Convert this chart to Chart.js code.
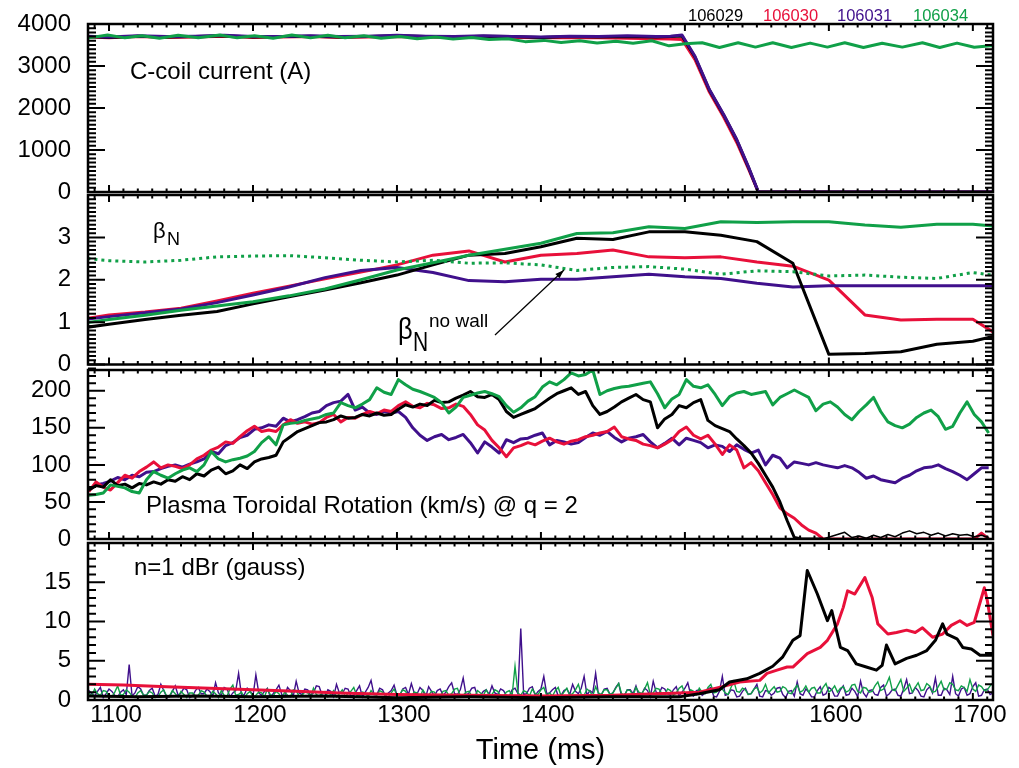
<!DOCTYPE html>
<html>
<head>
<meta charset="utf-8">
<script src="https://cdn.jsdelivr.net/npm/chart.js@4.4.0/dist/chart.umd.min.js"></script>
<style>
  body { margin: 0; background: #fff; width: 1019px; height: 768px; overflow: hidden; position: relative; }
  canvas { position: absolute; left: 0; }
</style>
</head>
<body>
<canvas id="p1" width="1019" height="215" style="top:0px"></canvas>
<canvas id="p2" width="1019" height="205" style="top:180px"></canvas>
<canvas id="p3" width="1019" height="205" style="top:355px"></canvas>
<canvas id="p4" width="1019" height="240" style="top:528px"></canvas>
<script>
// ---- shots ----
const shots = ['106029', '106030', '106031', '106034'];
const BLACK = '#000000', RED = '#e8103a', PURPLE = '#40108c', GREEN = '#10a048';
const FONT = '"Liberation Sans", Arial, Helvetica, sans-serif';
const X_MIN = 1085.4, X_MAX = 1714;
const xTicks = [1100, 1200, 1300, 1400, 1500, 1600, 1700];

// ---- panel 1 : C-coil current (A) ----
const coilTime = [1085,1100,1120,1140,1160,1180,1200,1220,1240,1260,1280,1300,1320,1340,1360,1380,1400,1420,1440,1460,1480,1490,1498,1507,1517,1527,1536,1544,1551,1714];
const coil029 = [3700,3680,3710,3690,3700,3720,3690,3700,3710,3690,3700,3720,3700,3690,3710,3700,3680,3700,3690,3700,3690,3700,3714,3214,2428,1830,1238,600,0,0];
const coil030 = [3690,3670,3700,3680,3690,3710,3680,3690,3700,3680,3690,3700,3690,3680,3700,3680,3670,3680,3670,3660,3650,3640,3630,3150,2380,1780,1180,560,0,0];
const coil031 = [3710,3690,3720,3700,3710,3730,3700,3700,3720,3700,3710,3730,3710,3700,3720,3700,3690,3710,3700,3720,3700,3710,3740,3230,2440,1840,1250,610,0,0];
const coilTime034 = [1086,1099,1111,1123,1135,1148,1162,1177,1189,1201,1214,1227,1240,1252,1264,1277,1289,1302,1314,1327,1339,1352,1364,1377,1389,1402,1414,1427,1439,1452,1464,1477,1489,1500,1512,1524,1537,1549,1561,1574,1587,1599,1611,1624,1637,1651,1665,1677,1689,1701,1714];
const coil034 = [3670,3740,3670,3720,3660,3730,3670,3740,3670,3720,3660,3740,3670,3730,3670,3720,3660,3700,3650,3690,3640,3680,3630,3650,3580,3610,3560,3600,3550,3590,3540,3600,3480,3530,3555,3440,3555,3450,3555,3440,3545,3450,3555,3440,3540,3450,3555,3440,3545,3445,3490];

// ---- panel 2 : beta_N ----
const betaTime = [1085,1100,1125,1150,1175,1200,1225,1250,1275,1300,1325,1350,1375,1400,1425,1450,1475,1500,1525,1550,1575,1600,1625,1650,1675,1700,1714];
const beta029 = [0.88,0.95,1.06,1.16,1.25,1.43,1.60,1.76,1.93,2.11,2.35,2.58,2.62,2.78,2.98,2.95,3.13,3.13,3.05,2.90,2.39,0.24,0.26,0.30,0.48,0.55,0.66];
const beta030 = [1.09,1.17,1.24,1.33,1.50,1.68,1.85,2.02,2.18,2.35,2.58,2.68,2.42,2.58,2.62,2.70,2.54,2.52,2.54,2.42,2.32,1.99,1.17,1.05,1.07,1.07,0.77];
const beta031 = [1.07,1.13,1.22,1.31,1.46,1.64,1.83,2.05,2.22,2.29,2.17,1.98,1.95,2.01,2.01,2.07,2.13,2.07,2.03,1.92,1.83,1.86,1.86,1.86,1.86,1.86,1.86];
const beta034 = [0.99,1.06,1.16,1.28,1.38,1.48,1.62,1.78,2.00,2.23,2.40,2.58,2.72,2.86,3.09,3.11,3.25,3.21,3.37,3.35,3.37,3.37,3.29,3.24,3.31,3.31,3.27];
const betaNoWall = [2.50,2.45,2.42,2.46,2.54,2.56,2.57,2.52,2.46,2.42,2.46,2.39,2.40,2.35,2.22,2.29,2.31,2.25,2.13,2.21,2.19,2.09,2.11,2.06,2.03,2.17,2.11];

// ---- panel 3 : toroidal rotation (km/s) at q=2 ----
const rotTime = [1086,1091,1096,1101,1106,1111,1116,1121,1126,1131,
  1136,1141,1146,1151,1156,1161,1166,1171,1176,1181,
  1186,1191,1196,1201,1206,1211,1216,1221,1226,1231,
  1236,1241,1246,1251,1256,1261,1266,1271,1276,1281,
  1286,1291,1296,1301,1306,1311,1316,1321,1326,1331,
  1336,1341,1346,1351,1356,1361,1366,1371,1376,1381,
  1386,1391,1396,1401,1406,1411,1416,1421,1426,1431,
  1436,1441,1446,1451,1456,1461,1466,1471,1476,1481,
  1486,1491,1496,1501,1506,1511,1516,1521,1526,1531,
  1536,1541,1546,1551,1556,1561,1566,1571,1576,1581,
  1586,1591,1596,1601,1606,1611,1616,1621,1626,1631,
  1636,1641,1646,1651,1656,1661,1666,1671,1676,1681,
  1686,1691,1696,1701,1706,1711];
const rot029 = [66,72,70,80,72,74,69,75,73,77,
  74,80,78,84,80,88,85,93,97,88,
  92,100,95,104,108,110,113,131,138,145,
  149,153,157,158,161,166,163,164,168,166,
  170,167,168,175,181,178,182,180,187,184,
  185,190,194,199,192,191,195,188,172,164,
  168,172,176,183,190,196,200,204,195,199,
  180,168,172,178,185,190,195,188,185,150,
  162,168,180,177,184,188,160,153,149,145,
  135,126,116,102,86,70,50,25,2,0,
  0,0,0,3,6,9,2,4,1,5,
  2,6,3,8,11,7,9,5,8,4,
  7,5,6,3,5,2];
const rot030 = [64,77,70,66,76,86,82,91,97,104,
  96,100,98,95,100,108,113,120,124,131,
  129,138,146,152,145,147,145,154,161,156,
  158,155,157,164,168,158,164,163,168,172,
  169,174,172,180,185,179,177,183,181,176,
  177,182,179,168,154,147,133,123,111,123,
  126,130,127,132,136,131,128,132,134,138,
  140,143,145,151,138,135,133,128,126,123,
  128,134,145,151,140,135,140,128,114,127,
  120,96,103,92,76,60,42,34,28,19,
  12,8,0,0,0,0,0,0,0,0,
  0,0,0,0,0,0,0,0,0,0,
  0,0,0,0,8,0];
const rot031 = [66,73,75,78,83,80,86,84,90,91,
  95,98,100,97,101,104,108,118,115,126,
  130,137,140,148,150,154,152,163,158,161,
  165,170,172,180,184,186,195,174,178,170,
  168,172,170,172,164,150,140,133,138,141,
  134,137,141,130,116,131,124,116,134,130,
  135,136,140,143,127,133,131,128,130,137,
  143,140,145,137,131,136,138,141,131,123,
  129,136,127,136,133,130,123,127,125,118,
  127,121,116,120,100,113,109,96,104,102,
  100,103,100,98,96,99,96,90,82,85,
  80,78,76,82,86,92,96,97,100,95,
  91,86,80,88,96,96];
const rot034 = [59,60,62,73,71,69,64,62,80,91,
  86,82,88,93,96,91,100,118,108,104,
  107,109,112,118,130,138,127,154,156,157,
  160,162,164,168,170,184,180,177,182,188,
  204,198,195,215,208,202,199,195,191,184,
  170,178,191,194,197,199,196,192,180,171,
  177,186,192,205,212,208,215,224,220,222,
  228,195,200,203,205,206,208,210,212,196,
  177,189,195,215,206,204,208,195,180,192,
  197,199,195,197,199,181,191,196,201,196,
  191,173,182,185,178,168,161,172,181,191,
  172,158,153,150,155,164,170,174,165,148,
  152,170,185,168,158,143];

// ---- panel 4 : n=1 dBr (gauss) ----
const dbrTime029 = [1085,1120,1160,1200,1250,1300,1350,1400,1450,1496,1510,1524,1531,1543,1552,1561,1568,1575,1580,1585,1592,1599,1602,1608,1613,1619,1626,1633,1637,1640,1646,1654,1661,1668,1674,1679,1682,1689,1693,1699,1705,1714];
const dbr029 = [0.5,0.4,0.5,0.4,0.5,0.3,0.4,0.3,0.4,0.4,0.8,1.3,2.3,2.7,3.4,4.3,5.5,7.6,8.2,16.5,13.5,10.1,11.4,6.7,6.3,4.6,4.2,3.8,4.4,7.0,4.6,5.3,5.7,6.3,7.6,9.7,8.4,7.8,6.7,6.5,5.7,5.7];
const dbrTime030 = [1085,1110,1140,1170,1200,1230,1260,1300,1350,1400,1450,1496,1510,1526,1538,1552,1557,1564,1571,1575,1585,1594,1599,1606,1610,1613,1618,1625,1630,1634,1641,1647,1654,1660,1665,1672,1679,1685,1691,1696,1701,1708,1710,1714];
const dbr030 = [2.0,1.9,1.7,1.5,1.3,1.1,0.9,0.7,0.6,0.5,0.6,0.9,1.0,1.7,2.3,2.5,3.4,3.8,4.2,4.2,5.9,6.7,7.6,9.7,11.8,13.9,13.5,15.6,13.1,9.7,8.4,8.6,8.9,8.6,9.2,8.0,8.4,9.5,10.1,9.5,9.9,14.3,12.7,8.2];
const dbrTime = [
  1086,1088,1090,1092,1094,1096,1098,1100,1102,1104,1106,1108,1110,1112,1114,1116,1118,1120,1122,1124,
  1126,1128,1130,1132,1134,1136,1138,1140,1142,1144,1146,1148,1150,1152,1154,1156,1158,1160,1162,1164,
  1166,1168,1170,1172,1174,1176,1178,1180,1182,1184,1186,1188,1190,1192,1194,1196,1198,1200,1202,1204,
  1206,1208,1210,1212,1214,1216,1218,1220,1222,1224,1226,1228,1230,1232,1234,1236,1238,1240,1242,1244,
  1246,1248,1250,1252,1254,1256,1258,1260,1262,1264,1266,1268,1270,1272,1274,1276,1278,1280,1282,1284,
  1286,1288,1290,1292,1294,1296,1298,1300,1302,1304,1306,1308,1310,1312,1314,1316,1318,1320,1322,1324,
  1326,1328,1330,1332,1334,1336,1338,1340,1342,1344,1346,1348,1350,1352,1354,1356,1358,1360,1362,1364,
  1366,1368,1370,1372,1374,1376,1378,1380,1382,1384,1386,1388,1390,1392,1394,1396,1398,1400,1402,1404,
  1406,1408,1410,1412,1414,1416,1418,1420,1422,1424,1426,1428,1430,1432,1434,1436,1438,1440,1442,1444,
  1446,1448,1450,1452,1454,1456,1458,1460,1462,1464,1466,1468,1470,1472,1474,1476,1478,1480,1482,1484,
  1486,1488,1490,1492,1494,1496,1498,1500,1502,1504,1506,1508,1510,1512,1514,1516,1518,1520,1522,1524,
  1526,1528,1530,1532,1534,1536,1538,1540,1542,1544,1546,1548,1550,1552,1554,1556,1558,1560,1562,1564,
  1566,1568,1570,1572,1574,1576,1578,1580,1582,1584,1586,1588,1590,1592,1594,1596,1598,1600,1602,1604,
  1606,1608,1610,1612,1614,1616,1618,1620,1622,1624,1626,1628,1630,1632,1634,1636,1638,1640,1642,1644,
  1646,1648,1650,1652,1654,1656,1658,1660,1662,1664,1666,1668,1670,1672,1674,1676,1678,1680,1682,1684,
  1686,1688,1690,1692,1694,1696,1698,1700,1702,1704,1706,1708,1710,1712,1714];
const dbr031 = [
  1.2,0.8,0.5,1.1,1.6,0.3,0.8,1.4,1.1,0.6,0.4,1.0,1.3,0.7,4.5,0.5,0.9,1.7,1.4,0.6,
  0.6,1.2,1.5,0.5,0.7,2.0,1.2,0.4,0.4,1.1,1.8,0.6,0.9,1.5,1.3,0.3,0.5,1.2,1.6,0.8,
  0.8,1.4,1.1,0.5,2.2,0.9,0.6,1.6,1.4,0.4,0.9,1.2,3.4,0.6,0.7,1.5,1.2,0.5,3.2,0.9,
  0.6,1.1,1.5,0.4,0.8,1.3,1.9,0.7,0.5,1.6,1.2,0.5,2.4,0.9,0.7,1.4,1.3,0.6,0.9,1.8,
  1.7,0.6,0.5,1.3,1.1,0.4,2.0,0.9,0.8,1.5,1.4,0.5,0.6,1.2,1.8,0.4,1.0,1.6,2.5,0.7,
  0.7,1.5,1.3,0.5,0.9,1.2,1.9,0.6,0.6,1.4,1.6,0.7,2.1,0.9,0.8,1.6,1.2,0.4,1.7,1.1,
  0.5,1.2,1.4,0.6,1.0,1.7,2.2,0.8,0.7,1.3,2.8,0.6,0.9,1.5,1.6,0.5,0.6,1.1,1.3,0.7,
  1.8,0.9,0.7,1.4,1.2,0.6,0.5,1.3,1.5,0.8,9.1,0.7,0.8,1.5,1.7,0.6,1.1,1.4,3.0,0.8,
  0.9,1.3,1.6,0.5,0.6,1.2,1.4,0.7,2.0,1.1,0.8,1.5,3.0,0.6,1.2,0.9,3.4,0.6,0.7,1.4,
  1.5,0.7,0.9,1.6,2.1,0.5,0.6,1.3,1.3,0.8,1.8,0.6,0.7,1.5,1.2,0.4,2.4,1.0,0.8,1.6,
  1.4,0.8,0.6,1.3,1.7,0.5,1.0,1.5,2.2,0.7,0.5,1.2,1.3,0.6,0.9,1.4,1.6,0.5,0.4,1.1,
  3.0,0.6,0.7,1.3,1.2,0.4,0.5,1.1,1.5,0.7,0.8,1.4,2.0,0.5,0.4,1.2,1.1,0.6,0.9,1.5,
  1.6,0.7,0.3,1.1,1.2,0.5,2.3,0.8,0.6,1.4,1.0,0.4,0.4,1.2,1.7,0.6,0.8,1.6,1.3,0.5,
  0.5,1.3,1.8,0.6,0.7,1.5,1.1,0.4,2.4,0.9,0.4,1.2,1.3,0.7,0.6,1.6,1.9,0.5,0.8,1.3,
  1.4,0.6,0.5,1.4,2.6,0.8,0.9,1.6,1.2,0.5,0.4,1.3,1.7,0.9,2.8,0.6,0.6,1.5,1.3,0.7,
  3.0,0.8,0.5,1.4,1.6,0.6,0.8,1.7,2.2,0.5,0.6,1.3,1.4,0.7,0.9];
const dbr034 = [
  0.9,0.5,1.4,0.8,0.6,1.2,1.1,0.4,0.4,1.0,1.8,0.6,0.7,1.3,1.0,0.5,0.3,0.9,1.2,0.6,
  0.6,1.1,0.9,0.3,0.4,1.0,1.3,0.5,0.5,1.2,0.8,0.4,1.1,0.7,0.3,0.9,0.9,0.5,0.6,1.2,
  1.0,0.5,0.4,1.1,0.8,0.3,1.2,0.6,0.5,1.4,1.9,0.6,0.7,1.0,0.3,0.8,1.1,0.4,0.6,1.0,
  0.9,0.4,1.4,0.7,0.5,1.1,0.8,0.3,1.0,0.6,0.4,1.3,1.2,0.5,0.6,1.0,0.9,0.4,1.5,0.7,
  0.5,0.9,1.1,0.4,0.7,1.2,0.4,0.8,1.3,0.5,0.8,1.1,1.6,0.6,0.5,1.0,0.9,0.4,1.2,0.7,
  0.6,1.2,1.0,0.5,0.4,0.9,1.4,0.6,0.7,1.3,1.1,0.4,0.5,1.0,0.9,0.3,1.3,0.7,0.6,1.1,
  1.0,0.4,0.5,1.1,1.2,0.6,0.8,1.4,1.5,0.5,0.6,1.0,1.1,0.5,0.4,1.2,0.9,0.6,1.3,0.7,
  0.7,1.3,1.1,0.5,0.5,1.0,1.2,0.6,4.3,0.9,0.6,1.2,1.0,0.5,1.4,0.8,0.7,1.3,1.6,0.6,
  0.9,0.5,1.2,1.6,0.5,1.0,1.5,0.6,0.8,1.3,2.0,0.7,0.6,1.4,1.1,0.5,1.7,0.9,0.7,1.3,
  1.3,0.7,0.9,1.5,2.1,0.8,0.6,1.3,1.2,0.6,1.6,1.0,0.8,1.4,2.2,0.7,0.9,1.5,1.4,0.8,
  0.7,1.4,1.2,0.6,0.9,1.5,1.8,0.8,0.6,1.3,1.1,0.7,1.5,1.0,0.8,1.6,2.0,0.9,1.0,1.5,
  1.4,0.9,0.7,1.6,2.4,1.1,1.0,1.5,1.3,0.7,0.8,1.4,1.6,0.9,1.2,2.0,0.9,1.3,1.7,1.0,
  1.1,1.7,1.5,0.9,0.8,1.4,1.9,1.0,1.2,1.8,1.0,1.5,1.6,0.9,0.9,1.6,2.1,1.0,1.3,1.8,
  1.0,1.5,1.7,1.0,1.2,1.9,2.0,1.1,0.9,1.6,1.5,1.0,1.1,1.8,2.3,1.2,1.4,2.0,2.9,1.3,
  1.2,1.9,2.6,1.1,1.5,2.0,1.0,1.6,2.2,1.2,1.3,2.1,1.8,1.0,1.1,1.7,2.4,1.3,1.4,2.2,
  2.0,1.3,1.2,1.8,1.6,1.1,2.6,1.4,1.1,1.9,1.7,1.2,1.3,1.8,2.2];

// ---- helpers ----
function pts(times, vals) {
  return times.map((t, i) => ({ x: t, y: vals[i] }));
}
function line(label, times, vals, color, extra) {
  return Object.assign({
    label, data: pts(times, vals), borderColor: color, backgroundColor: color,
    borderWidth: 3, pointRadius: 0, fill: false, tension: 0, borderJoinStyle: 'round'
  }, extra || {});
}

// frame with inward major/minor ticks on all four sides
const framePlugin = {
  id: 'frame',
  afterDatasetsDraw(chart, args, opts) {
    const { ctx, chartArea: a, scales } = chart;
    const xs = scales.x, ys = scales.y;
    ctx.save();
    ctx.strokeStyle = '#000';
    ctx.lineWidth = 2;
    ctx.beginPath();
    const ny = Math.round((ys.max - ys.min) / opts.yMinor);
    for (let i = 0; i <= ny; i++) {
      const v = ys.min + i * opts.yMinor;
      const major = Math.abs(v / opts.yMajor - Math.round(v / opts.yMajor)) < 1e-6;
      const len = major ? 17 : 8;
      const py = ys.getPixelForValue(v);
      ctx.moveTo(a.left, py); ctx.lineTo(a.left + len, py);
      ctx.moveTo(a.right, py); ctx.lineTo(a.right - len, py);
    }
    const first = Math.ceil(xs.min / 10) * 10;
    for (let v = first; v <= xs.max; v += 10) {
      const major = v % 100 === 0;
      const len = major ? 7 : 3.5;
      const px = xs.getPixelForValue(v);
      ctx.moveTo(px, a.bottom); ctx.lineTo(px, a.bottom - len);
      ctx.moveTo(px, a.top); ctx.lineTo(px, a.top + len);
    }
    ctx.stroke();
    ctx.lineWidth = 2.5;
    ctx.strokeRect(a.left, a.top, a.right - a.left, a.bottom - a.top);
    ctx.restore();
  }
};

// free text and arrows, positions given in page pixels
const notesPlugin = {
  id: 'notes',
  afterDraw(chart, args, opts) {
    const ctx = chart.ctx;
    const top = chart.canvas.offsetTop;
    ctx.save();
    (opts.items || []).forEach(n => {
      ctx.save();
      ctx.font = n.font;
      ctx.fillStyle = n.color || '#000';
      ctx.textBaseline = 'alphabetic';
      ctx.translate(n.x, n.y - top);
      if (n.sx) ctx.scale(n.sx, 1);
      ctx.fillText(n.text, 0, 0);
      ctx.restore();
    });
    (opts.arrows || []).forEach(ar => {
      const x1 = ar.x1, y1 = ar.y1 - top, x2 = ar.x2, y2 = ar.y2 - top;
      ctx.strokeStyle = '#000';
      ctx.fillStyle = '#000';
      ctx.lineWidth = 1.2;
      ctx.beginPath(); ctx.moveTo(x1, y1); ctx.lineTo(x2, y2); ctx.stroke();
      const ang = Math.atan2(y2 - y1, x2 - x1);
      ctx.beginPath();
      ctx.moveTo(x2, y2);
      ctx.lineTo(x2 - 9 * Math.cos(ang) + 3 * Math.sin(ang), y2 - 9 * Math.sin(ang) - 3 * Math.cos(ang));
      ctx.lineTo(x2 - 9 * Math.cos(ang) - 3 * Math.sin(ang), y2 - 9 * Math.sin(ang) + 3 * Math.cos(ang));
      ctx.closePath(); ctx.fill();
    });
    ctx.restore();
  }
};
Chart.register(framePlugin, notesPlugin);

// keep tick labels from pushing the plot area around
function noPad(s) {
  s.paddingTop = 0; s.paddingBottom = 0; s.paddingLeft = 0; s.paddingRight = 0;
}

function makeOptions(cfg) {
  return {
    responsive: false,
    animation: false,
    layout: { padding: { left: 0, right: 26, top: cfg.padTop, bottom: cfg.padBottom } },
    plugins: {
      legend: { display: false },
      tooltip: { enabled: false },
      frame: { yMinor: cfg.yMinor, yMajor: cfg.yMajor },
      notes: { items: cfg.notes || [], arrows: cfg.arrows || [] }
    },
    scales: {
      x: cfg.xAxis || { type: 'linear', min: X_MIN, max: X_MAX, display: false, afterFit: noPad },
      y: {
        type: 'linear', min: cfg.yMin, max: cfg.yMax,
        afterFit: s => { s.width = 88; noPad(s); },
        afterBuildTicks: cfg.dropTop ? s => { s.ticks = s.ticks.filter(t => t.value < s.max); } : undefined,
        grid: { display: false, drawTicks: false },
        border: { display: false },
        ticks: {
          stepSize: cfg.yMajor, includeBounds: false, padding: 17, color: '#000',
          font: { family: FONT, size: 24 },
          callback: v => String(v)
        }
      }
    }
  };
}

const TXT = '24px ' + FONT;

// ---- panel 1 ----
new Chart(document.getElementById('p1'), {
  type: 'line',
  data: {
    datasets: [
      line(shots[3], coilTime034, coil034, GREEN, { order: 0 }),
      line(shots[2], coilTime, coil031, PURPLE, { order: 1 }),
      line(shots[0], coilTime, coil029, BLACK, { order: 2 }),
      line(shots[1], coilTime, coil030, RED, { order: 3 })
    ]
  },
  options: makeOptions({
    padTop: 24, padBottom: 23, yMin: 0, yMax: 4000, yMajor: 1000, yMinor: 100,
    notes: [
      { text: 'C-coil current (A)', font: TXT, x: 130, y: 79 },
      { text: shots[0], font: '16.5px ' + FONT, color: BLACK, x: 688, y: 20.5 },
      { text: shots[1], font: '16.5px ' + FONT, color: RED, x: 763, y: 20.5 },
      { text: shots[2], font: '16.5px ' + FONT, color: PURPLE, x: 837, y: 20.5 },
      { text: shots[3], font: '16.5px ' + FONT, color: GREEN, x: 913, y: 20.5 }
    ]
  })
});

// ---- panel 2 ----
new Chart(document.getElementById('p2'), {
  type: 'line',
  data: {
    datasets: [
      line('no wall', betaTime, betaNoWall, GREEN, { order: 0, borderDash: [3, 4], borderJoinStyle: 'miter' }),
      line(shots[3], betaTime, beta034, GREEN, { order: 1 }),
      line(shots[0], betaTime, beta029, BLACK, { order: 2 }),
      line(shots[2], betaTime, beta031, PURPLE, { order: 3 }),
      line(shots[1], betaTime, beta030, RED, { order: 4 })
    ]
  },
  options: makeOptions({
    padTop: 15, padBottom: 20.5, yMin: 0, yMax: 4, yMajor: 1, yMinor: 0.1, dropTop: true,
    notes: [
      { text: 'β', font: '22px ' + FONT, x: 153, y: 238 },
      { text: 'N', font: '18px ' + FONT, x: 167, y: 245 },
      { text: 'β', font: '30px ' + FONT, x: 398, y: 339, sx: 0.85 },
      { text: 'N', font: '28px ' + FONT, x: 413, y: 350.5, sx: 0.75 },
      { text: 'no wall', font: '19px ' + FONT, x: 429, y: 327 }
    ],
    arrows: [{ x1: 495, y1: 335, x2: 564, y2: 270 }]
  })
});

// ---- panel 3 ----
new Chart(document.getElementById('p3'), {
  type: 'line',
  data: {
    datasets: [
      line(shots[3], rotTime, rot034, GREEN, { order: 0 }),
      line(shots[0], rotTime, rot029, BLACK, { order: 1, segment: { borderWidth: c => (c.p0.parsed.x >= 1596 ? 1.5 : 3) } }),
      line(shots[1], rotTime, rot030, RED, { order: 2 }),
      line(shots[2], rotTime, rot031, PURPLE, { order: 3 })
    ]
  },
  options: makeOptions({
    padTop: 15, padBottom: 21, yMin: 0, yMax: 228, yMajor: 50, yMinor: 10,
    notes: [
      { text: 'Plasma Toroidal Rotation (km/s) @ q = 2', font: TXT, x: 146, y: 513 }
    ]
  })
});

// ---- panel 4 ----
new Chart(document.getElementById('p4'), {
  type: 'line',
  data: {
    datasets: [
      line(shots[0], dbrTime029, dbr029, BLACK, { order: 0 }),
      line(shots[1], dbrTime030, dbr030, RED, { order: 1 }),
      line(shots[3], dbrTime, dbr034, GREEN, { order: 2, borderWidth: 1.4, borderJoinStyle: 'miter' }),
      line(shots[2], dbrTime, dbr031, PURPLE, { order: 3, borderWidth: 1.4, borderJoinStyle: 'miter' })
    ]
  },
  options: makeOptions({
    padTop: 15, padBottom: 0, yMin: 0, yMax: 20, yMajor: 5, yMinor: 1, dropTop: true,
    notes: [
      { text: 'n=1 dBr (gauss)', font: TXT, x: 134, y: 575 }
    ],
    xAxis: {
      type: 'linear', min: X_MIN, max: X_MAX, display: true,
      afterFit: s => { s.height = 68; noPad(s); },
      afterBuildTicks: s => { s.ticks = xTicks.map(v => ({ value: v })); },
      grid: { display: false, drawTicks: false },
      border: { display: false },
      ticks: {
        autoSkip: false, maxRotation: 0, padding: 1, labelOffset: 7, color: '#000',
        font: { family: FONT, size: 24 },
        callback: v => String(v)
      },
      title: {
        display: true, text: 'Time (ms)', color: '#000',
        font: { family: FONT, size: 29 },
        padding: { top: 0, bottom: 0 }
      }
    }
  })
});
</script>
</body>
</html>
